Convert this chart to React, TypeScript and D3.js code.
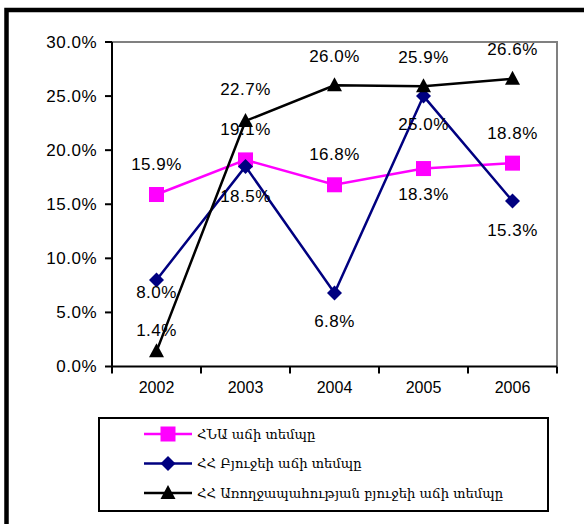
import React from "react";
import * as d3 from "d3";

const years = ["2002", "2003", "2004", "2005", "2006"];
const gdpGrowth = [15.9, 19.1, 16.8, 18.3, 18.8];
const budgetGrowth = [8.0, 18.5, 6.8, 25.0, 15.3];
const healthBudgetGrowth = [1.4, 22.7, 26.0, 25.9, 26.6];
const yTicks = [0, 5, 10, 15, 20, 25, 30];
const seriesNames = [
  "ՀՆԱ աճի տեմպը",
  "ՀՀ Բյուջեի աճի տեմպը",
  "ՀՀ Առողջապահության բյուջեի աճի տեմպը",
];

// label placement (vertical offsets of data labels from their points)
const gdpLabelDy = [-30, -30, -30, 26, -30];
const budgetLabelDy = [13, 30, 29, 28, 29];
const healthLabelDy = [-21, -31, -29, -29, -29];

const W = 584;
const H = 524;
const left = 112;
const right = 557;
const top = 42;
const bottom = 366.5;

type Marker = "square" | "diamond" | "triangle";

function MarkerShape({ kind, x, y, color }: { kind: Marker; x: number; y: number; color: string }) {
  if (kind === "square") {
    return <rect x={x - 7.5} y={y - 7.5} width={15} height={15} fill={color} />;
  }
  if (kind === "diamond") {
    const r = 7.5;
    return <path d={`M${x},${y - r}L${x + r},${y}L${x},${y + r}L${x - r},${y}Z`} fill={color} />;
  }
  return <path d={`M${x},${y - 8}L${x + 7.5},${y + 6}L${x - 7.5},${y + 6}Z`} fill={color} />;
}

export default function App() {
  const x = d3.scaleBand<string>().domain(years).range([left, right]).padding(0);
  const y = d3.scaleLinear().domain([0, 30]).range([bottom, top]);
  const cx = (yr: string) => (x(yr) as number) + x.bandwidth() / 2;

  const series = [
    { name: seriesNames[0], values: gdpGrowth, color: "#FF00FF", marker: "square" as Marker, dy: gdpLabelDy },
    { name: seriesNames[1], values: budgetGrowth, color: "#000080", marker: "diamond" as Marker, dy: budgetLabelDy },
    { name: seriesNames[2], values: healthBudgetGrowth, color: "#000000", marker: "triangle" as Marker, dy: healthLabelDy },
  ];

  const line = d3
    .line<number>()
    .x((_, i) => cx(years[i]))
    .y((v) => y(v));

  const pctFont = {
    fontFamily: "'Liberation Sans', Arial, sans-serif",
    fontSize: 17,
    letterSpacing: 0.5,
  };
  const boundaries = [...years.map((yr) => x(yr) as number), right];

  return (
    <svg
      width={W}
      height={H}
      style={{ position: "absolute", left: 0, top: 0, background: "#fff" }}
    >
      <rect x={0} y={0} width={W} height={H} fill="#fff" />
      {/* outer frame */}
      <rect x={6.5} y={10} width={640} height={640} fill="none" stroke="#000" strokeWidth={4.5} />

      {/* plot area border (top/right gray) */}
      <path d={`M${left},${top}H${right}V${bottom}`} fill="none" stroke="#808080" strokeWidth={2} />

      {/* y axis */}
      <line x1={left} y1={top} x2={left} y2={bottom} stroke="#000" strokeWidth={2} />
      {yTicks.map((t) => (
        <g key={t}>
          <line x1={left - 7} x2={left} y1={y(t)} y2={y(t)} stroke="#000" strokeWidth={2} />
          <text x={97} y={y(t)} textAnchor="end" dominantBaseline="central" {...pctFont}>
            {t.toFixed(1) + "%"}
          </text>
        </g>
      ))}

      {/* x axis */}
      <line x1={left} y1={bottom} x2={right} y2={bottom} stroke="#000" strokeWidth={2} />
      {boundaries.map((b, i) => (
        <line key={i} x1={b} x2={b} y1={bottom} y2={bottom + 7} stroke="#000" strokeWidth={2} />
      ))}
      {years.map((yr) => (
        <text
          key={yr}
          x={cx(yr)}
          y={387}
          textAnchor="middle"
          dominantBaseline="central"
          fontFamily="'Liberation Sans', Arial, sans-serif"
          fontSize={16}
        >
          {yr}
        </text>
      ))}

      {/* series */}
      {series.map((s) => (
        <g key={s.name}>
          <path d={line(s.values) || ""} fill="none" stroke={s.color} strokeWidth={2.5} />
          {s.values.map((v, i) => (
            <MarkerShape key={i} kind={s.marker} x={cx(years[i])} y={y(v)} color={s.color} />
          ))}
        </g>
      ))}

      {/* data labels */}
      {series.map((s) =>
        s.values.map((v, i) => (
          <text
            key={s.name + i}
            x={cx(years[i])}
            y={y(v) + s.dy[i]}
            textAnchor="middle"
            dominantBaseline="central"
            {...pctFont}
          >
            {v.toFixed(1) + "%"}
          </text>
        ))
      )}

      {/* legend */}
      <rect x={99} y={418} width={449} height={93} fill="#fff" stroke="#000" strokeWidth={2} />
      {series.map((s, i) => {
        const ly = 434 + i * 29.5;
        return (
          <g key={s.name}>
            <line x1={144} x2={192} y1={ly} y2={ly} stroke={s.color} strokeWidth={2.5} />
            <MarkerShape kind={s.marker} x={168} y={ly} color={s.color} />
            <text
              x={197}
              y={ly}
              dominantBaseline="central"
              fontFamily="'DejaVu Serif', serif"
              fontSize={13.2}
            >
              {s.name}
            </text>
          </g>
        );
      })}
    </svg>
  );
}
